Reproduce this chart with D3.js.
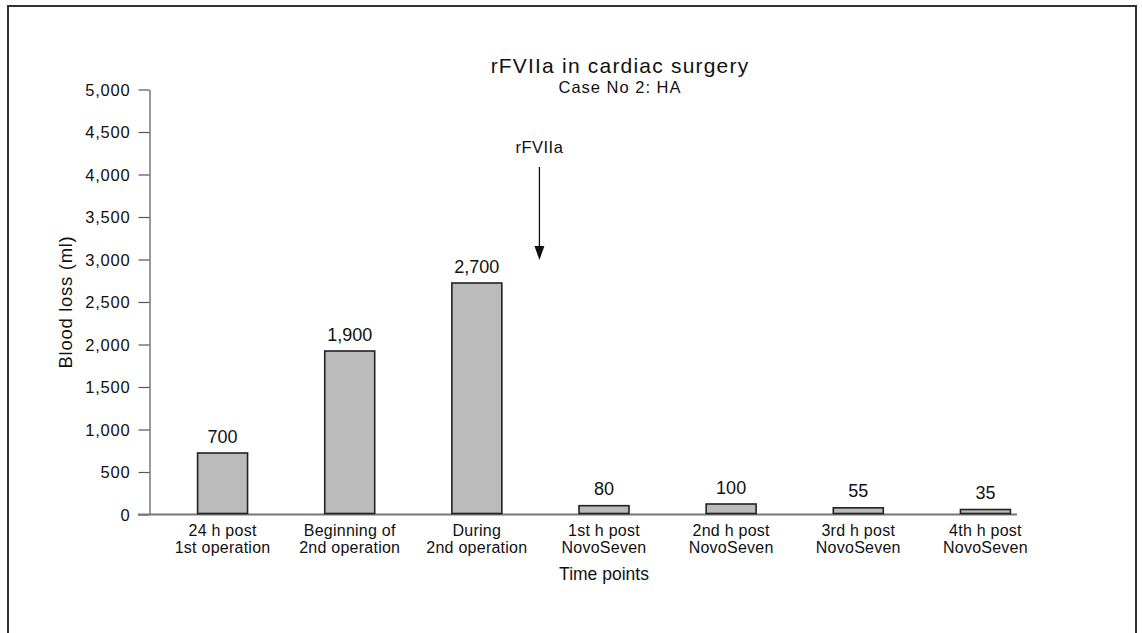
<!DOCTYPE html>
<html>
<head>
<meta charset="utf-8">
<script src="https://cdn.jsdelivr.net/npm/d3@7"></script>
<style>
  body { margin: 0; background: #fff; }
  svg { display: block; font-family: "Liberation Sans", Arial, sans-serif; }
</style>
</head>
<body>
<svg id="chart" width="1142" height="633"></svg>
<script>
// chart data
const categories = [
  ["24 h post", "1st operation"],
  ["Beginning of", "2nd operation"],
  ["During", "2nd operation"],
  ["1st h post", "NovoSeven"],
  ["2nd h post", "NovoSeven"],
  ["3rd h post", "NovoSeven"],
  ["4th h post", "NovoSeven"]
];
const bloodLoss = [700, 1900, 2700, 80, 100, 55, 35];
const valueLabels = ["700", "1,900", "2,700", "80", "100", "55", "35"];
const yTicks = [0, 500, 1000, 1500, 2000, 2500, 3000, 3500, 4000, 4500, 5000];

const svg = d3.select("#chart");

// outer frame (bottom edge runs off the page)
svg.append("path")
  .attr("d", "M8,640 V6 H1136 V640")
  .attr("fill", "none")
  .attr("stroke", "#333")
  .attr("stroke-width", 2);

const x = d3.scaleBand()
  .domain(d3.range(categories.length))
  .range([159, 1049])
  .paddingInner(0.607)
  .paddingOuter(0.3035);

const y = d3.scaleLinear()
  .domain([0, 5000])
  .range([514.5, 89.5]);

// y axis
const yAxis = svg.append("g")
  .attr("transform", "translate(149.5,0)")
  .call(d3.axisLeft(y).tickValues(yTicks).tickSize(11).tickPadding(8)
    .tickFormat(d3.format(",")).tickSizeOuter(0));
yAxis.select(".domain").attr("stroke", "#777").attr("stroke-width", 1.5);
yAxis.selectAll(".tick line").attr("stroke", "#555").attr("stroke-width", 1.2);
yAxis.selectAll(".tick text")
  .attr("fill", "#111")
  .attr("dy", "0.36em")
  .style("font-size", "16.5px")
  .style("letter-spacing", "0.8px")
  .style("font-family", "'Liberation Sans', Arial, sans-serif");

// x axis baseline
svg.append("line")
  .attr("x1", 138).attr("x2", 1017)
  .attr("y1", y(0)).attr("y2", y(0))
  .attr("stroke", "#777")
  .attr("stroke-width", 2);

// bars
svg.append("g").selectAll("rect")
  .data(bloodLoss)
  .join("rect")
  .attr("x", (d, i) => x(i))
  .attr("width", x.bandwidth())
  .attr("y", d => y(d) - 2)
  .attr("height", d => y(0) - y(d) + 1)
  .attr("fill", "#bbb")
  .attr("stroke", "#222")
  .attr("stroke-width", 1.6);

// value labels
svg.append("g").selectAll("text")
  .data(bloodLoss)
  .join("text")
  .attr("x", (d, i) => x(i) + x.bandwidth() / 2)
  .attr("y", d => y(d) - 12.5)
  .attr("text-anchor", "middle")
  .attr("fill", "#111")
  .style("font-size", "18px")
  .text((d, i) => valueLabels[i]);

// category labels
const catG = svg.append("g").selectAll("text")
  .data(categories)
  .join("text")
  .attr("x", (d, i) => x(i) + x.bandwidth() / 2)
  .attr("y", 536)
  .attr("text-anchor", "middle")
  .attr("fill", "#111")
  .style("font-size", "16px")
  .style("letter-spacing", "0.25px");
catG.selectAll("tspan")
  .data(d => d)
  .join("tspan")
  .attr("x", function() { return this.parentNode.getAttribute("x"); })
  .attr("dy", (d, i) => i === 0 ? 0 : 17)
  .text(d => d);

// axis titles
svg.append("text")
  .attr("x", x(3) + x.bandwidth() / 2)
  .attr("y", 580)
  .attr("text-anchor", "middle")
  .attr("fill", "#111")
  .style("font-size", "17.5px")
  .text("Time points");

svg.append("text")
  .attr("transform", `translate(72,${(y(0) + y(5000)) / 2}) rotate(-90)`)
  .attr("text-anchor", "middle")
  .attr("fill", "#111")
  .style("font-size", "18.5px")
  .style("letter-spacing", "0.7px")
  .text("Blood loss (ml)");

// title
svg.append("text")
  .attr("x", 620)
  .attr("y", 73)
  .attr("text-anchor", "middle")
  .attr("fill", "#111")
  .style("font-size", "21px")
  .style("letter-spacing", "1.2px")
  .text("rFVIIa in cardiac surgery");

svg.append("text")
  .attr("x", 620)
  .attr("y", 93)
  .attr("text-anchor", "middle")
  .attr("fill", "#111")
  .style("font-size", "16.5px")
  .style("letter-spacing", "1px")
  .text("Case No 2: HA");

// rFVIIa administration arrow, between "During" and "1st h post"
const arrowX = (x(2) + x(3) + x.bandwidth()) / 2 - 1;
svg.append("text")
  .attr("x", arrowX)
  .attr("y", 153)
  .attr("text-anchor", "middle")
  .attr("fill", "#111")
  .style("font-size", "16.5px")
  .style("letter-spacing", "0.5px")
  .text("rFVIIa");
svg.append("line")
  .attr("x1", arrowX).attr("x2", arrowX)
  .attr("y1", 167).attr("y2", 250)
  .attr("stroke", "#111")
  .attr("stroke-width", 1.3);
svg.append("path")
  .attr("d", `M${arrowX - 5},246 L${arrowX + 5},246 L${arrowX},260 Z`)
  .attr("fill", "#111");
</script>
</body>
</html>
